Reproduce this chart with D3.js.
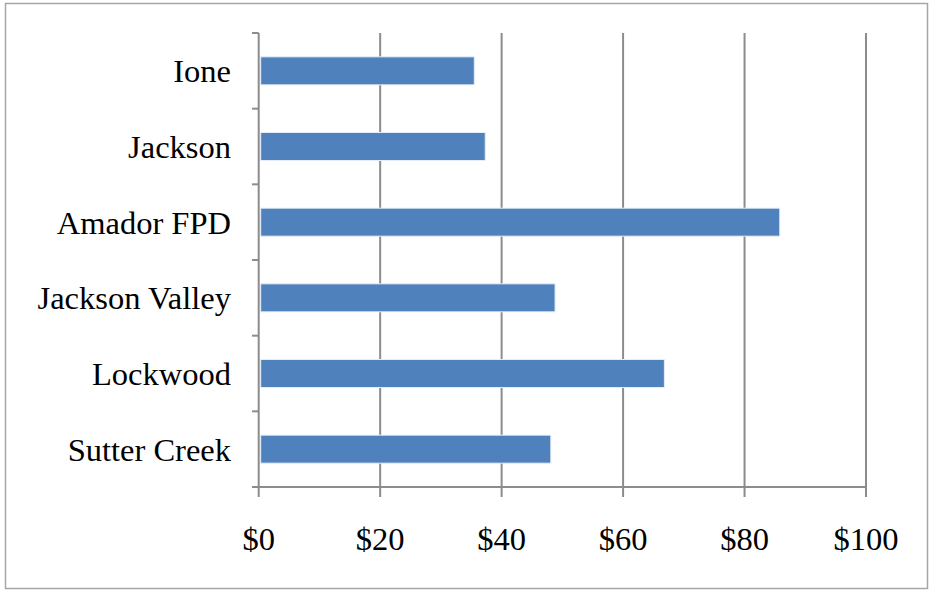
<!DOCTYPE html>
<html><head><meta charset="utf-8">
<script src="https://cdn.jsdelivr.net/npm/d3@7"></script>
<style>body{margin:0;background:#fff}svg{display:block}</style>
</head><body>
<script>
const categories = ["Ione","Jackson","Amador FPD","Jackson Valley","Lockwood","Sutter Creek"];
const values = [35.5, 37.3, 85.8, 48.8, 66.8, 48.1];
const xTicks = [0,20,40,60,80,100];
const tickLabels = ["$0","$20","$40","$60","$80","$100"];

const W=931,H=592;
const svg=d3.select("body").append("svg").attr("width",W).attr("height",H);
svg.append("rect").attr("x",5.5).attr("y",3.5).attr("width",922).attr("height",585)
  .attr("fill","#fff").attr("stroke","#a6a6a6").attr("stroke-width",1.5);

const x=d3.scaleLinear().domain([0,100]).range([258.7,866]);
const y=d3.scaleBand().domain(categories).range([33,487]).paddingInner(0.63).paddingOuter(0.315);
const font="'Liberation Serif', 'DejaVu Serif', serif";
const grid="#8c8c8c";

// gridlines
svg.append("g").selectAll("line").data(xTicks.slice(1)).join("line")
  .attr("x1",d=>x(d)).attr("x2",d=>x(d)).attr("y1",33).attr("y2",497)
  .attr("stroke",grid).attr("stroke-width",2);

// bars
svg.append("g").selectAll("rect").data(categories).join("rect")
  .attr("x",x(0)+2).attr("y",d=>y(d))
  .attr("width",(d,i)=>x(values[i])-x(0)-2).attr("height",y.bandwidth())
  .attr("fill","#4f81bd").attr("stroke","#e6ecf5").attr("stroke-width",1);

// y axis
const step=(487-33)/categories.length;
svg.append("line").attr("x1",x(0)).attr("x2",x(0)).attr("y1",33).attr("y2",497)
  .attr("stroke",grid).attr("stroke-width",2);
svg.append("g").selectAll("line").data(d3.range(categories.length+1)).join("line")
  .attr("x1",252).attr("x2",x(0)).attr("y1",d=>33+d*step).attr("y2",d=>33+d*step)
  .attr("stroke",grid).attr("stroke-width",2);
svg.append("g").selectAll("text").data(categories).join("text")
  .attr("x",231).attr("y",d=>y(d)+y.bandwidth()/2).attr("dy","0.35em")
  .attr("text-anchor","end").attr("font-family",font).attr("font-size",32.5).attr("fill","#000")
  .text(d=>d);

// x axis
svg.append("line").attr("x1",252).attr("x2",x(100)).attr("y1",487).attr("y2",487)
  .attr("stroke",grid).attr("stroke-width",2);
svg.append("g").selectAll("text").data(xTicks).join("text")
  .attr("x",d=>x(d)).attr("y",539).attr("dy","0.35em").attr("text-anchor","middle")
  .attr("font-family",font).attr("font-size",32.5).attr("fill","#000")
  .text((d,i)=>tickLabels[i]);
</script>
</body></html>
